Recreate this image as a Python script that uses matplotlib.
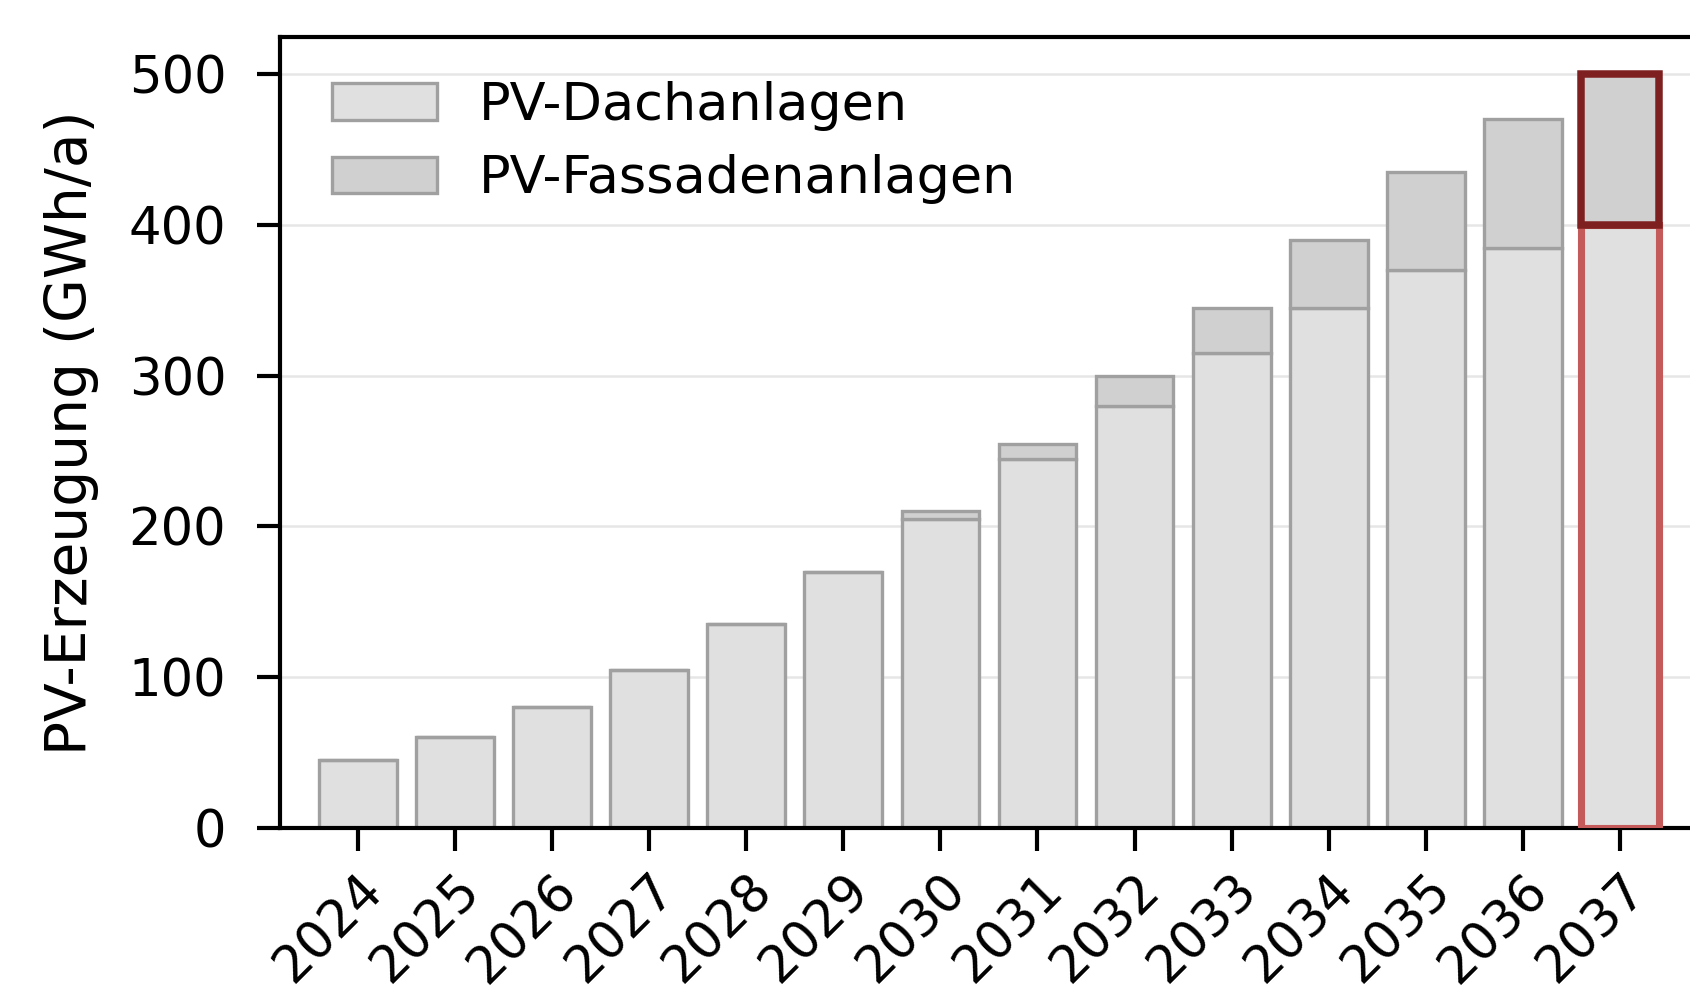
import numpy as np
import matplotlib
matplotlib.use("Agg")
import matplotlib.pyplot as plt

years = ['2024', '2025', '2026', '2027', '2028', '2029', '2030',
         '2031', '2032', '2033', '2034', '2035', '2036', '2037']
dach = [45, 60, 80, 105, 135, 170, 205, 245, 280, 315, 345, 370, 385, 400]
fassade = [0, 0, 0, 0, 0, 0, 5, 10, 20, 30, 45, 65, 85, 100]

col_dach = '#e0e0e0'
col_fass = '#d0d0d0'
col_edge = '#a0a0a0'

def plotChart():
    fig = plt.figure(figsize=(1690 / 300, 997 / 300), dpi=300)
    ax = fig.add_axes([0.1657, 0.1697, 0.8389, 0.7936])

    x = np.arange(len(years))
    ax.bar(x, dach, width=0.8, color=col_dach, edgecolor=col_edge, linewidth=0.8,
           label='PV-Dachanlagen', zorder=2)
    ax.bar(x, fassade, width=0.8, bottom=dach, color=col_fass, edgecolor=col_edge,
           linewidth=0.8, label='PV-Fassadenanlagen', zorder=2)

    # highlight last year
    ax.bar(x[-1], dach[-1], width=0.8, color=col_dach, edgecolor='#c45a5a',
           linewidth=1.7, zorder=3)
    ax.bar(x[-1], fassade[-1], width=0.8, bottom=dach[-1], color=col_fass,
           edgecolor='#7f2020', linewidth=1.8, zorder=4)

    ax.set_xlim(-0.8, 13.8)
    ax.set_ylim(0, 525)
    ax.set_yticks([0, 100, 200, 300, 400, 500])
    ax.set_xticks(x)
    ax.set_xticklabels(years, rotation=45, ha='right', rotation_mode='anchor')
    ax.tick_params(labelsize=12.3, length=5.5, width=1.0)
    ax.tick_params(axis='y', pad=7.4)
    ax.set_ylabel('PV-Erzeugung (GWh/a)', fontsize=13.6, labelpad=7.0)
    ax.yaxis.grid(True, color='#e6e6e6', linewidth=0.6)
    ax.set_axisbelow(True)
    for s in ax.spines.values():
        s.set_linewidth(1.0)

    ax.legend(loc='upper left', frameon=False, fontsize=12.6, labelspacing=0.45,
              bbox_to_anchor=(0.003, 1.004))
    fig.savefig('out.png', dpi=300)

def main():
    plotChart()

if __name__ == "__main__":
    main()
